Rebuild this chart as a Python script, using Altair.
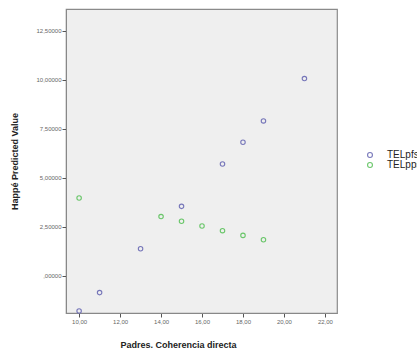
import altair as alt
import pandas as pd

# Predicted values by "Padres. Coherencia directa"
pfs_x = [10, 11, 13, 15, 17, 18, 19, 21]
pfs_y = [-1.79, -0.85, 1.39, 3.55, 5.71, 6.82, 7.91, 10.07]
pp_x = [10, 14, 15, 16, 17, 18, 19]
pp_y = [3.98, 3.03, 2.79, 2.55, 2.31, 2.07, 1.85]
series_names = ["TELpfs", "TELpps"]

x_ticks = [10, 12, 14, 16, 18, 20, 22]
y_ticks = [0, 2.5, 5, 7.5, 10, 12.5]

df = pd.DataFrame(
    {"x": pfs_x + pp_x,
     "y": pfs_y + pp_y,
     "serie": [series_names[0]] * len(pfs_x) + [series_names[1]] * len(pp_x)}
)

points = alt.Chart(df).mark_point(
    shape="circle", filled=False, size=20, strokeWidth=1.1, opacity=0.9
).encode(
    x=alt.X(
        "x:Q",
        scale=alt.Scale(domain=[9.36, 22.59], nice=False, zero=False),
        axis=alt.Axis(
            values=x_ticks,
            labelExpr="replace(format(datum.value, '.2f'), '.', ',')",
            title="Padres. Coherencia directa",
            titleX=112, titleY=27, titleAlign="center",
        ),
    ),
    y=alt.Y(
        "y:Q",
        scale=alt.Scale(domain=[-1.89, 13.62], nice=False, zero=False),
        axis=alt.Axis(
            values=y_ticks,
            labelExpr="datum.value == 0 ? ',00000' : replace(format(datum.value, '.5f'), '.', ',')",
            title="Happé Predicted Value",
            titleX=-47,
        ),
    ),
    color=alt.Color(
        "serie:N",
        scale=alt.Scale(domain=series_names, range=["#6a6ab4", "#5cc25c"]),
        legend=alt.Legend(
            title=None, orient="none", legendX=299, legendY=141,
            symbolType="circle", symbolSize=24, symbolStrokeWidth=1.1,
            symbolFillColor="transparent",
            labelFontSize=10, labelColor="#222", labelFont="Liberation Sans",
            rowPadding=-1, labelOffset=12, labelLimit=200,
        ),
    ),
)

chart = points.properties(
    width=271, height=304,
    autosize="none",
    padding={"left": 66, "top": 9, "right": 80, "bottom": 39},
).configure_view(
    fill="#efefef", stroke="#8a8a8a", strokeWidth=1.2
).configure_axis(
    labelFont="Liberation Sans", labelFontSize=6, labelColor="#666",
    titleFont="Liberation Sans", titleFontSize=9, titleFontWeight="bold",
    titleColor="#222", domain=True, domainColor="#888", tickColor="#555",
    tickSize=4, labelPadding=1, grid=False,
)

chart.save("out.html", embed_options={"renderer": "svg", "actions": False})
